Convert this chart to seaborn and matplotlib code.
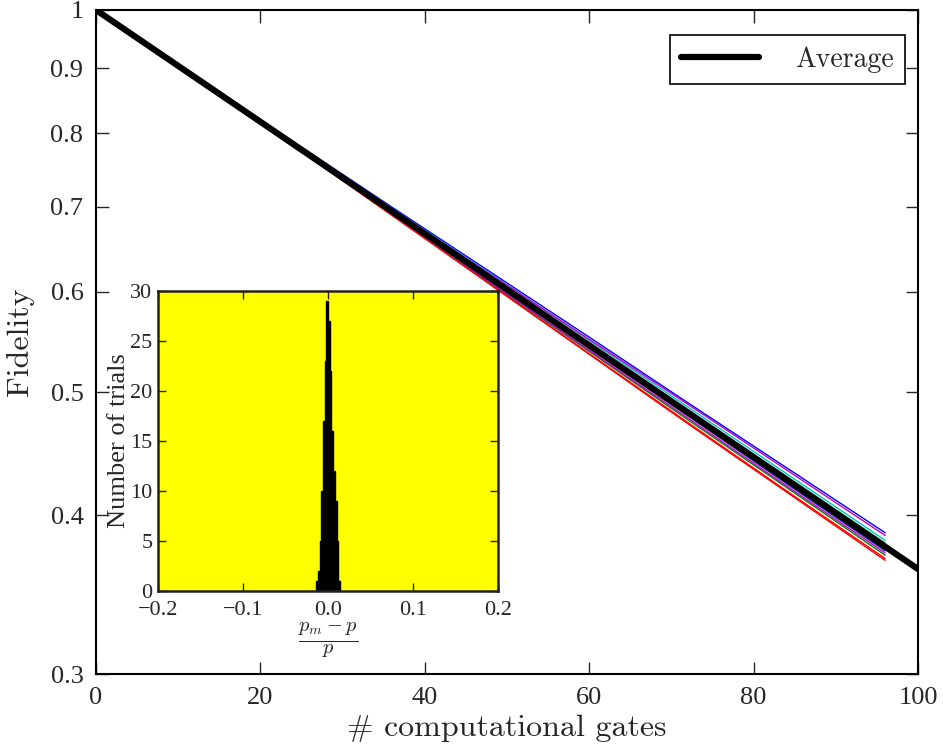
import numpy as np
import pandas as pd
import matplotlib
matplotlib.use("Agg")
import matplotlib.pyplot as plt
import seaborn as sns

# ---------------- data ----------------
trial_gates = [0, 12, 24, 36, 48, 60, 72, 84, 96]
trial_1 = [1.0, 0.8880, 0.7877, 0.6995, 0.6217, 0.5526, 0.4906, 0.4361, 0.3876]
trial_2 = [1.0, 0.8853, 0.7854, 0.6960, 0.6155, 0.5461, 0.4839, 0.4293, 0.3804]
trial_3 = [1.0, 0.8889, 0.7846, 0.6918, 0.6082, 0.5363, 0.4733, 0.4182, 0.3699]
trial_4 = [1.0, 0.8844, 0.7862, 0.6981, 0.6198, 0.5493, 0.4868, 0.4314, 0.3823]
trial_5 = [1.0, 0.8889, 0.7870, 0.6974, 0.6192, 0.5504, 0.4892, 0.4344, 0.3857]
trial_6 = [1.0, 0.8853, 0.7830, 0.6946, 0.6155, 0.5450, 0.4829, 0.4276, 0.3785]
trial_7 = [1.0, 0.8844, 0.7822, 0.6918, 0.6131, 0.5428, 0.4805, 0.4254, 0.3766]
trial_8 = [1.0, 0.8862, 0.7838, 0.6925, 0.6118, 0.5412, 0.4791, 0.4237, 0.3751]
trial_9 = [1.0, 0.8836, 0.7806, 0.6904, 0.6094, 0.5385, 0.4757, 0.4208, 0.3721]
trial_10 = [1.0, 0.8853, 0.7814, 0.6890, 0.6075, 0.5357, 0.4723, 0.4173, 0.3687]
trial_11 = [1.0, 0.8862, 0.7862, 0.6974, 0.6180, 0.5466, 0.4844, 0.4289, 0.3797]
trial_12 = [1.0, 0.8871, 0.7846, 0.6911, 0.6100, 0.5395, 0.4772, 0.4220, 0.3736]
trial_13 = [1.0, 0.8844, 0.7822, 0.6925, 0.6125, 0.5417, 0.4796, 0.4246, 0.3759]
trial_14 = [1.0, 0.8853, 0.7846, 0.6939, 0.6149, 0.5444, 0.4820, 0.4267, 0.3778]
trials = [trial_1, trial_2, trial_3, trial_4, trial_5, trial_6, trial_7,
          trial_8, trial_9, trial_10, trial_11, trial_12, trial_13, trial_14]
trial_colors = ["b", "g", "r", "c", "m", "y", "k",
                "b", "g", "r", "c", "m", "y", "k"]

avg_gates = [0, 10, 20, 30, 40, 50, 60, 70, 80, 90, 100]
avg_fidelity = [1.0, 0.9036, 0.8165, 0.7378, 0.6667, 0.6024,
                0.5444, 0.4919, 0.4445, 0.4016, 0.3629]

# histogram of relative error (p_m - p)/p
hist_edges = [-0.014, -0.012, -0.010, -0.008, -0.006, -0.004, -0.002,
              0.000, 0.002, 0.004, 0.006, 0.008, 0.010, 0.012, 0.014]
hist_counts = [1, 2, 5, 10, 17, 23, 29, 27, 22, 16, 12, 9, 5, 1]

x_ticks = [0, 20, 40, 60, 80, 100]
y_ticks = [0.3, 0.4, 0.5, 0.6, 0.7, 0.8, 0.9, 1.0]
y_tick_labels = ["0.3", "0.4", "0.5", "0.6", "0.7", "0.8", "0.9", "1"]
inset_x_ticks = [-0.2, -0.1, 0.0, 0.1, 0.2]
inset_x_labels = ["\u22120.2", "\u22120.1", "0.0", "0.1", "0.2"]
inset_y_ticks = [0, 5, 10, 15, 20, 25, 30]

# ---------------- style ----------------
sns.set_style("ticks")
plt.rcParams["font.family"] = ["Liberation Serif", "DejaVu Serif"]
plt.rcParams["mathtext.fontset"] = "cm"
label_font = ["cmr10", "Liberation Serif", "DejaVu Serif"]

fig = plt.figure(figsize=(9.43, 7.51), dpi=100)
ax = fig.add_axes([0.1018, 0.1025, 0.8717, 0.8842])

rows = []
for i, vals in enumerate(trials):
    for g, f in zip(trial_gates, vals):
        rows.append({"gates": g, "fidelity": f, "trial": f"t{i}"})
df = pd.DataFrame(rows)
palette = {f"t{i}": c for i, c in enumerate(trial_colors)}
sns.lineplot(data=df, x="gates", y="fidelity", hue="trial", palette=palette,
             linewidth=1.0, legend=False, ax=ax, estimator=None, sort=False)

avg_df = pd.DataFrame({"gates": avg_gates, "fidelity": avg_fidelity})
sns.lineplot(data=avg_df, x="gates", y="fidelity", color="black",
             linewidth=4.5, label="Average", ax=ax)

ax.set_yscale("log")
ax.set_xlim(0, 100)
ax.set_ylim(0.3, 1.0)
ax.set_xticks(x_ticks)
ax.set_xticklabels([str(t) for t in x_ticks])
ax.set_yticks(y_ticks)
ax.set_yticklabels(y_tick_labels)
ax.yaxis.set_minor_locator(matplotlib.ticker.NullLocator())
ax.tick_params(axis="both", which="both", direction="in", length=9, width=1,
               top=True, right=True, labelsize=19, pad=9)
for sp in ax.spines.values():
    sp.set_linewidth(1.5)
    sp.set_color("black")
ax.set_xlabel("# computational gates", fontsize=23, family=label_font, labelpad=4)
ax.set_ylabel("Fidelity", fontsize=23, family=label_font, labelpad=12)

leg = ax.legend(loc="upper right", bbox_to_anchor=(0.984, 0.962),
                borderaxespad=0, fancybox=False, framealpha=1,
                edgecolor="black", handlelength=2.8, handletextpad=1.3,
                borderpad=0.4, prop={"family": label_font, "size": 20})
leg.get_frame().set_linewidth(1.2)

# ---------------- inset ----------------
ins = fig.add_axes([0.1676, 0.2131, 0.3605, 0.3995])
ins.set_facecolor("yellow")
centers = [(a + b) / 2 for a, b in zip(hist_edges[:-1], hist_edges[1:])]
sns.histplot(x=centers, weights=hist_counts, bins=hist_edges, color="black",
             edgecolor="black", alpha=1, ax=ins)
ins.set_xlim(-0.2, 0.2)
ins.set_ylim(0, 30)
ins.set_xticks(inset_x_ticks)
ins.set_xticklabels(inset_x_labels)
ins.set_yticks(inset_y_ticks)
ins.tick_params(axis="both", direction="in", length=6, width=1,
                top=True, right=True, labelsize=16)
ins.tick_params(axis="x", pad=7)
ins.tick_params(axis="y", pad=4)
for sp in ins.spines.values():
    sp.set_linewidth(1.8)
    sp.set_color("#222222")
ins.set_xlabel(r"$\frac{p_m-p}{p}$", fontsize=21, labelpad=1)
ins.set_ylabel("Number of trials", fontsize=19, labelpad=0)

fig.savefig("out.png", dpi=100)
